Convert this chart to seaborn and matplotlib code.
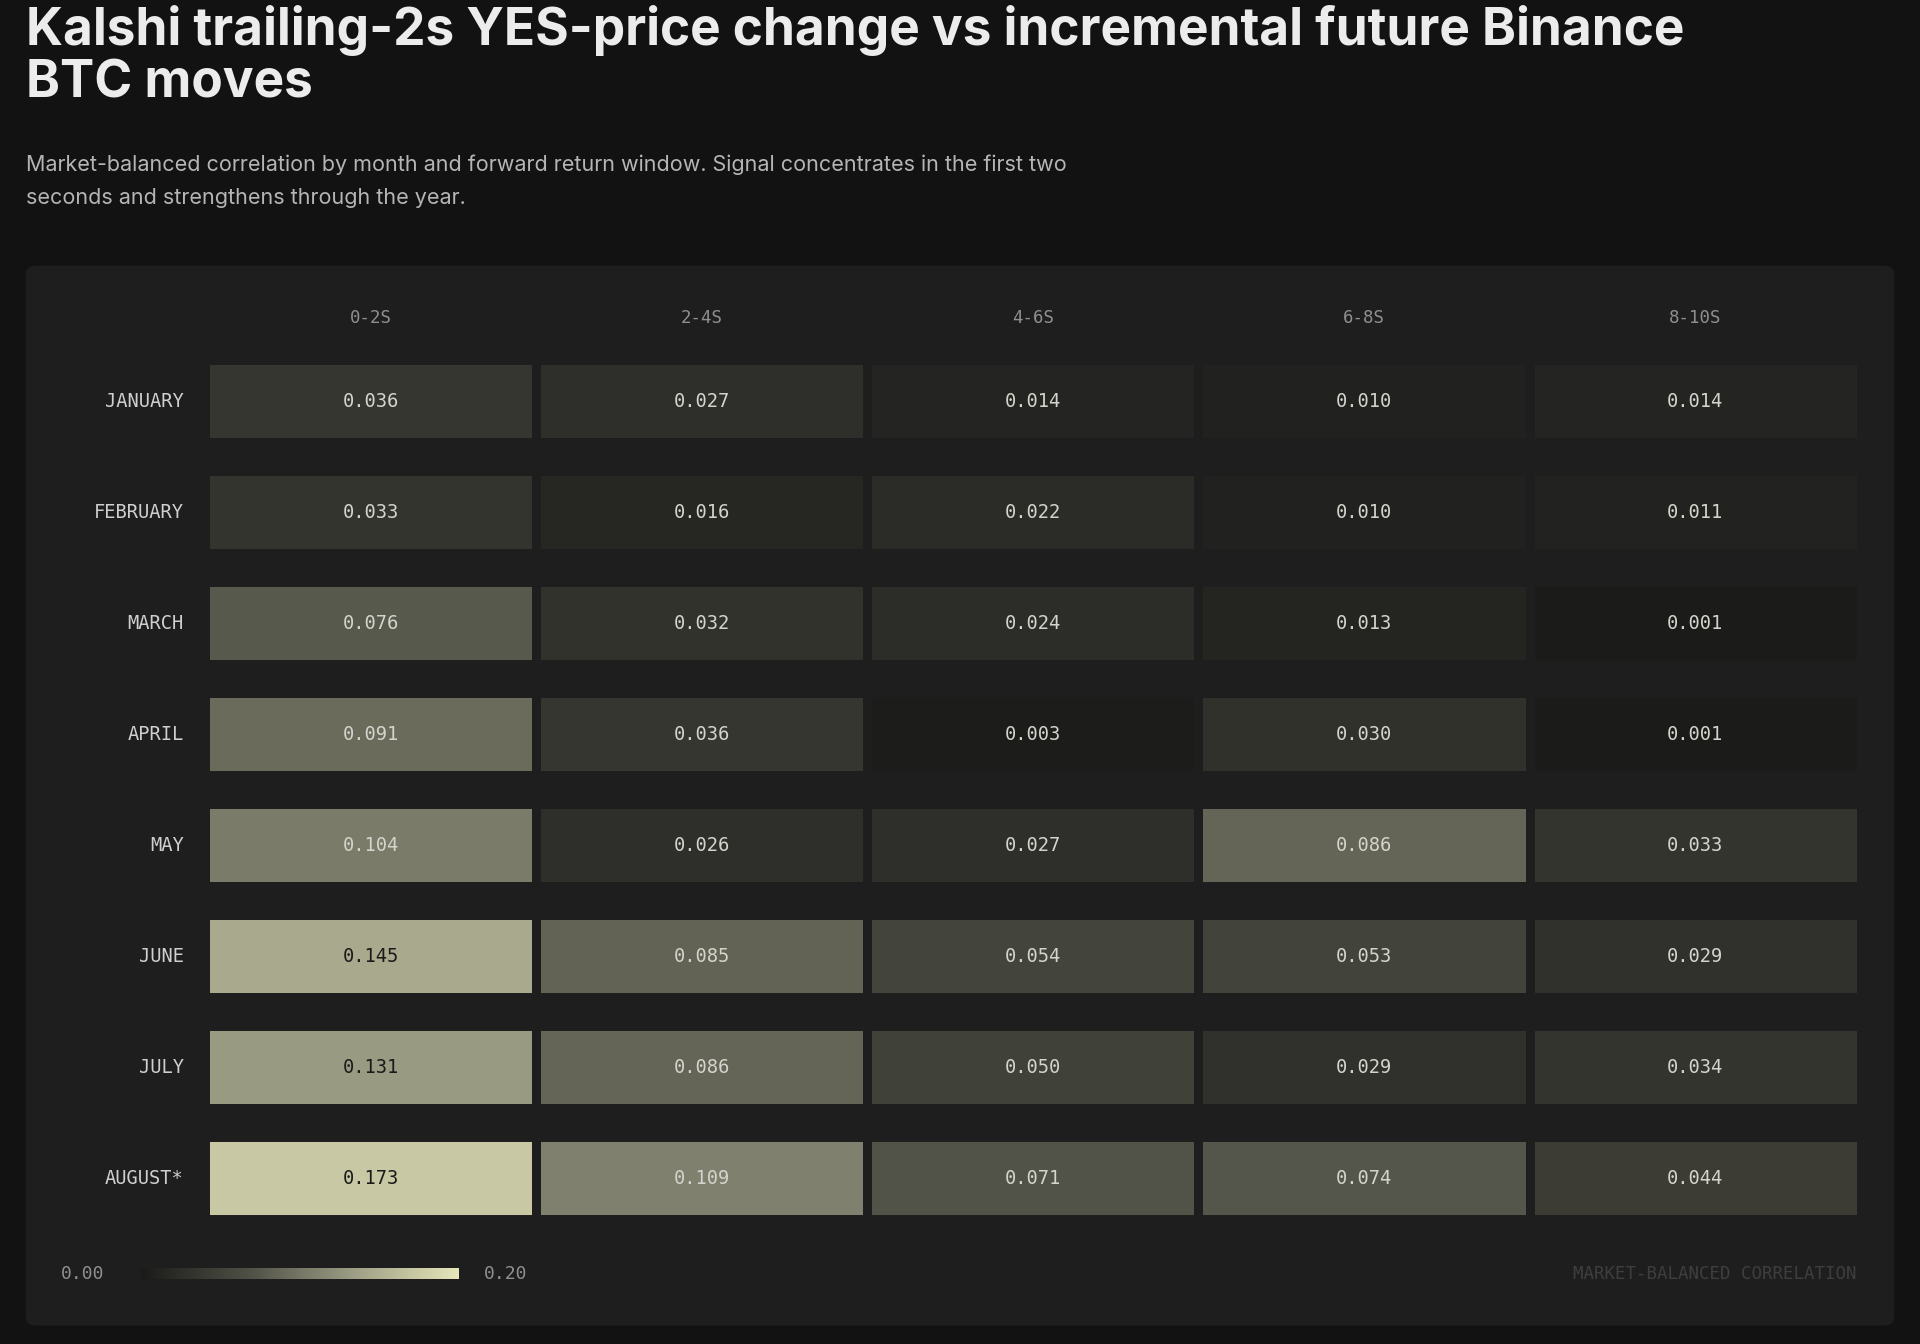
import matplotlib
matplotlib.use("Agg")
import matplotlib.pyplot as plt
import matplotlib.transforms as mtrans
import seaborn as sns
import numpy as np
import pandas as pd
from matplotlib.colors import LinearSegmentedColormap
from matplotlib.patches import FancyBboxPatch

months = ["JANUARY", "FEBRUARY", "MARCH", "APRIL", "MAY", "JUNE", "JULY", "AUGUST*"]
windows = ["0-2S", "2-4S", "4-6S", "6-8S", "8-10S"]
w0_2 = [0.036, 0.033, 0.076, 0.091, 0.104, 0.145, 0.131, 0.173]
w2_4 = [0.027, 0.016, 0.032, 0.036, 0.026, 0.085, 0.086, 0.109]
w4_6 = [0.014, 0.022, 0.024, 0.003, 0.027, 0.054, 0.050, 0.071]
w6_8 = [0.010, 0.010, 0.013, 0.030, 0.086, 0.053, 0.029, 0.074]
w8_10 = [0.014, 0.011, 0.001, 0.001, 0.033, 0.029, 0.034, 0.044]

df = pd.DataFrame({windows[0]: w0_2, windows[1]: w2_4, windows[2]: w4_6,
                   windows[3]: w6_8, windows[4]: w8_10}, index=months)

sns.set_theme(style="dark")
plt.rcParams['font.family'] = ['DejaVu Sans']
BG = "#121212"
PANEL = "#1e1e1e"
cmap = LinearSegmentedColormap.from_list("k", ["#1a1a19", "#4d4e44", "#9c9d84", "#e6e6b9"])

W, H = 1568, 1098
fig = plt.figure(figsize=(19.2, 13.44), dpi=100, facecolor=BG)
s = 1920 / W

def fx(x): return x / W
def fy(y): return 1 - y / H

fig.patches.append(FancyBboxPatch((fx(21), fy(1083)), fx(1547) - fx(21), fy(217) - fy(1083),
                                  boxstyle="round,pad=0,rounding_size=0.006",
                                  transform=fig.transFigure, facecolor=PANEL, edgecolor="none", zorder=-5))

fig.text(fx(21), fy(4), "Kalshi trailing-2s YES-price change vs incremental future Binance\nBTC moves",
         color="#ececec", fontsize=37, fontweight="bold", family=["Inter", "DejaVu Sans"],
         va="top", ha="left", linespacing=1.1)
fig.text(fx(21), fy(126), "Market-balanced correlation by month and forward return window. Signal concentrates in the first two\nseconds and strengthens through the year.",
         color="#b5b5b5", fontsize=15.5, family=["Inter", "DejaVu Sans"], va="top", ha="left", linespacing=1.85)

ax = fig.add_axes([fx(167.5), fy(1008.5), fx(1519.5) - fx(167.5), fy(282.5) - fy(1008.5)])
ax.set_facecolor(PANEL)
sns.heatmap(df, ax=ax, cmap=cmap, vmin=0, vmax=0.2, cbar=False, annot=False,
            linewidths=7 * s * 0.72, linecolor=PANEL)
for i, m in enumerate(months):
    for j, w in enumerate(windows):
        v = df.loc[m, w]
        ax.text(j + 0.5, i + 0.5, f"{v:.3f}", ha="center", va="center",
                fontsize=13.5, family="DejaVu Sans Mono", zorder=5,
                color="#1a1a18" if v >= 0.12 else "#d4d4cc")
for y in range(len(months) + 1):
    ax.axhline(y, color=PANEL, lw=31 * s * 0.72, zorder=3)
ax.set_xticks([]); ax.set_yticks([])
ax.set_xlabel(""); ax.set_ylabel("")
for sp in ax.spines.values():
    sp.set_visible(False)

hdr_tr = mtrans.blended_transform_factory(ax.transData, fig.transFigure)
for j, w in enumerate(windows):
    ax.text(j + 0.5, fy(260), w, transform=hdr_tr, ha="center", va="center",
            fontsize=12.5, family="DejaVu Sans Mono", color="#8f8f8f", clip_on=False)
lab_tr = mtrans.blended_transform_factory(fig.transFigure, ax.transData)
for i, m in enumerate(months):
    fig.text(fx(150), i + 0.5, m, ha="right", va="center", fontsize=13.5,
             family="DejaVu Sans Mono", color="#cfcfcf", transform=lab_tr)

cax = fig.add_axes([fx(115), fy(1045), fx(375) - fx(115), fy(1036) - fy(1045)])
sm = plt.cm.ScalarMappable(cmap=cmap, norm=plt.Normalize(0, 0.2))
cb = fig.colorbar(sm, cax=cax, orientation="horizontal")
cb.outline.set_visible(False)
cax.set_xticks([]); cax.set_yticks([])
fig.text(fx(50), fy(1041), "0.00", ha="left", va="center", fontsize=13, family="DejaVu Sans Mono", color="#8f8f8f")
fig.text(fx(395), fy(1041), "0.20", ha="left", va="center", fontsize=13, family="DejaVu Sans Mono", color="#8f8f8f")
fig.text(fx(1516), fy(1041), "MARKET-BALANCED CORRELATION", ha="right", va="center", fontsize=12.5,
         family="DejaVu Sans Mono", color="#3e3e3e")

fig.savefig("out.png", dpi=100, facecolor=BG)
